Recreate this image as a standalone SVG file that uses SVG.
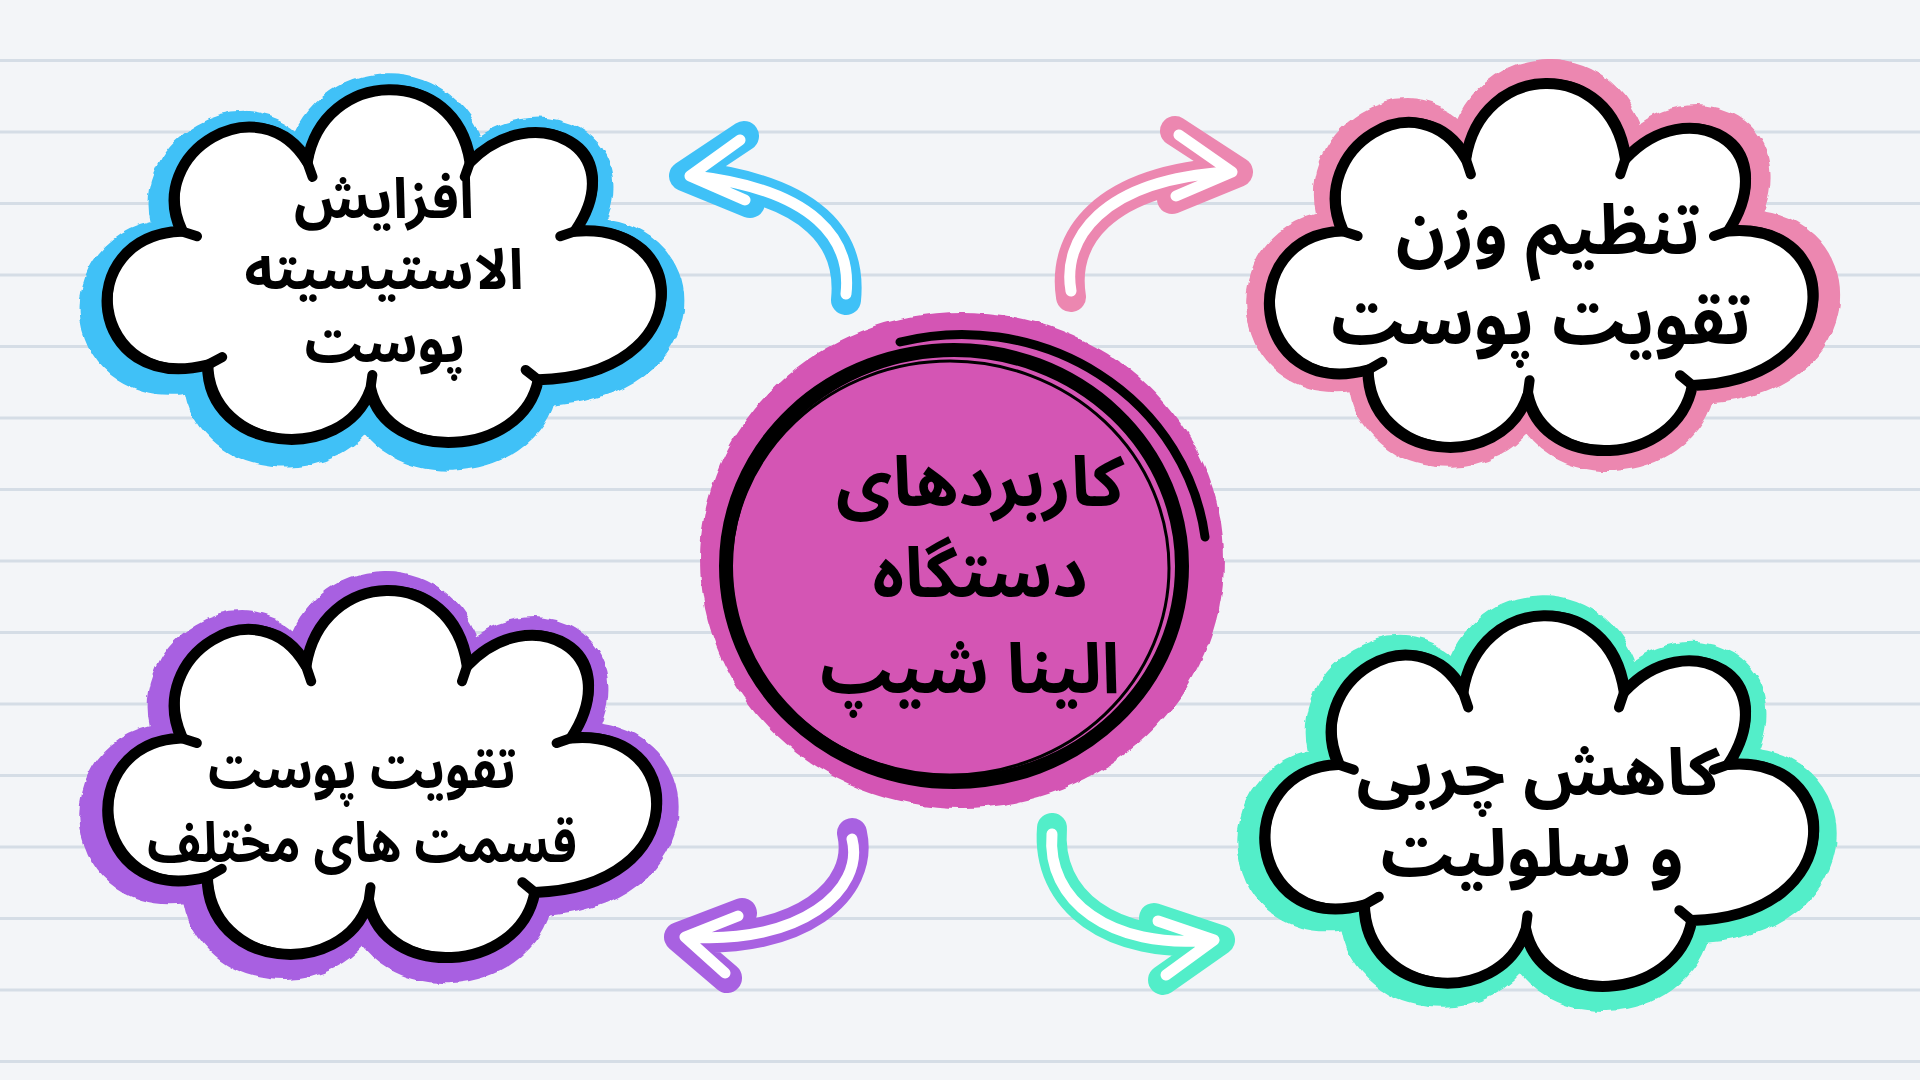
<svg xmlns="http://www.w3.org/2000/svg" xmlns:xlink="http://www.w3.org/1999/xlink" width="1920" height="1080" viewBox="0 0 1920 1080">
<defs>
<style>
.bg-line{stroke:#d5dde6;stroke-width:3}
.band{fill:#ffffff;stroke-width:34;stroke-linejoin:round}
.outline{fill:#ffffff;stroke:#000;stroke-width:11;stroke-linejoin:round}
.sketch{fill:none;stroke:#000;stroke-width:3}
.tick{fill:none;stroke:#000;stroke-width:10;stroke-linecap:round}
.t{font-family:'Noto Sans Arabic','Vazirmatn','DejaVu Sans',sans-serif;font-weight:700;fill:#000;text-anchor:middle;dominant-baseline:central}
.arr-c{fill:none;stroke-width:30;stroke-linecap:round;stroke-linejoin:round}
.arr-w{fill:none;stroke:#fff;stroke-width:11;stroke-linecap:round;stroke-linejoin:round}
</style>
<filter id="rough" x="-10%" y="-10%" width="120%" height="120%">
<feTurbulence type="fractalNoise" baseFrequency="0.06" numOctaves="2" seed="4"/>
<feDisplacementMap in="SourceGraphic" scale="6" xChannelSelector="R" yChannelSelector="G"/>
</filter>
<path id="cloud" vector-effect="non-scaling-stroke" d="M -195 -35 C -230 -115 -120 -185 -75 -105 C -60 -200 65 -205 80 -105 C 140 -170 235 -120 180 -35 C 290 -45 300 110 145 115 C 130 195 0 200 -15 125 C -40 200 -170 190 -170 100 C -285 130 -300 -30 -195 -35 Z"/>
<path id="ticks" vector-effect="non-scaling-stroke" d="M -195 -35 L -180 -30 M -75 -105 L -70 -90 M 80 -105 L 75 -90 M 180 -35 L 166 -30 M 145 115 L 133 105 M -15 125 L -13 110 M -170 100 L -156 92"/>
</defs>

<rect x="0" y="0" width="1920" height="1080" fill="#f3f5f8"/>
<g id="background-lines">
<line class="bg-line" x1="0" y1="60.5" x2="1920" y2="60.5"/>
<line class="bg-line" x1="0" y1="132" x2="1920" y2="132"/>
<line class="bg-line" x1="0" y1="203.5" x2="1920" y2="203.5"/>
<line class="bg-line" x1="0" y1="275" x2="1920" y2="275"/>
<line class="bg-line" x1="0" y1="346.5" x2="1920" y2="346.5"/>
<line class="bg-line" x1="0" y1="418" x2="1920" y2="418"/>
<line class="bg-line" x1="0" y1="489.5" x2="1920" y2="489.5"/>
<line class="bg-line" x1="0" y1="561" x2="1920" y2="561"/>
<line class="bg-line" x1="0" y1="632.5" x2="1920" y2="632.5"/>
<line class="bg-line" x1="0" y1="704" x2="1920" y2="704"/>
<line class="bg-line" x1="0" y1="775.5" x2="1920" y2="775.5"/>
<line class="bg-line" x1="0" y1="847" x2="1920" y2="847"/>
<line class="bg-line" x1="0" y1="918.5" x2="1920" y2="918.5"/>
<line class="bg-line" x1="0" y1="990" x2="1920" y2="990"/>
<line class="bg-line" x1="0" y1="1061.5" x2="1920" y2="1061.5"/>
</g>

<g id="connectors">
<g id="arrow-blue">
<path class="arr-c" stroke="#3fc1f7" d="M 846 300 C 852 240 815 190 690 176 M 744 136 L 684 176 L 750 203"/>
<path class="arr-w" d="M 846 294 C 852 240 815 190 694 176 M 740 140 L 690 176 L 745 200"/>
</g>
<g id="arrow-pink">
<path class="arr-c" stroke="#ec87b0" d="M 1071 297 C 1062 240 1100 180 1232 172 M 1175 131 L 1238 172 L 1172 199"/>
<path class="arr-w" d="M 1071 291 C 1062 240 1100 180 1228 172 M 1179 135 L 1232 172 L 1176 196"/>
</g>
<g id="arrow-purple">
<path class="arr-c" stroke="#a861e1" d="M 852 833 C 865 890 800 945 684 937 M 742 913 L 679 937 L 727 978"/>
<path class="arr-w" d="M 852 839 C 865 890 800 945 688 937 M 738 916 L 685 937 L 725 973"/>
</g>
<g id="arrow-teal">
<path class="arr-c" stroke="#52eec9" d="M 1052 828 C 1046 900 1110 950 1215 940 M 1154 918 L 1220 940 L 1163 980"/>
<path class="arr-w" d="M 1052 834 C 1046 900 1110 950 1211 940 M 1158 921 L 1214 940 L 1166 975"/>
</g>
</g>

<g id="node-center">
<ellipse cx="962" cy="560" rx="262" ry="248" fill="#d455b4" filter="url(#rough)"/>
<ellipse cx="954" cy="566" rx="228" ry="216" fill="none" stroke="#000" stroke-width="14"/>
<ellipse cx="950" cy="568" rx="219" ry="207" fill="none" stroke="#000" stroke-width="3"/>
<path d="M 900 342 A 245 232 0 0 1 1205 537" fill="none" stroke="#000" stroke-width="9" stroke-linecap="round"/>
<text class="t" font-size="70"><tspan x="980" y="484" textLength="288" lengthAdjust="spacingAndGlyphs">کاربردهای</tspan><tspan x="980" y="575" textLength="215" lengthAdjust="spacingAndGlyphs">دستگاه</tspan><tspan x="970" y="671" textLength="300" lengthAdjust="spacingAndGlyphs">الینا شیپ</tspan></text>
</g>

<g id="node-blue">
<g transform="translate(386,266) scale(1.05,0.99)">
<use href="#cloud" class="band" stroke="#3fc1f7" transform="translate(-2,6) scale(1.03)" filter="url(#rough)"/>
<use href="#cloud" class="outline"/>
<use href="#cloud" class="sketch" transform="translate(4,-3)"/>
<use href="#ticks" class="tick"/>
</g>
<text class="t" font-size="56"><tspan x="384" y="200" textLength="180" lengthAdjust="spacingAndGlyphs">افزایش</tspan><tspan x="384" y="271" textLength="279" lengthAdjust="spacingAndGlyphs">الاستیسیته</tspan><tspan x="385" y="344" textLength="161" lengthAdjust="spacingAndGlyphs">پوست</tspan></text>
</g>

<g id="node-pink">
<g transform="translate(1543,267) scale(1.03,1.03)">
<use href="#cloud" class="band" stroke="#ec87b0" transform="translate(2,-2) scale(1.03)" filter="url(#rough)"/>
<use href="#cloud" class="outline"/>
<use href="#cloud" class="sketch" transform="translate(4,-3)"/>
<use href="#ticks" class="tick"/>
</g>
<text class="t" font-size="70"><tspan x="1548" y="232" textLength="304" lengthAdjust="spacingAndGlyphs">تنظیم وزن</tspan><tspan x="1541" y="322" textLength="420" lengthAdjust="spacingAndGlyphs">تقویت پوست</tspan></text>
</g>

<g id="node-purple">
<g transform="translate(384,774) scale(1.04,1.03)">
<use href="#cloud" class="band" stroke="#a861e1" transform="translate(-3,3) scale(1.03)" filter="url(#rough)"/>
<use href="#cloud" class="outline"/>
<use href="#cloud" class="sketch" transform="translate(4,-3)"/>
<use href="#ticks" class="tick"/>
</g>
<text class="t" font-size="56"><tspan x="362" y="770" textLength="308" lengthAdjust="spacingAndGlyphs">تقویت پوست</tspan><tspan x="362" y="844" textLength="430" lengthAdjust="spacingAndGlyphs">قسمت های مختلف</tspan></text>
</g>

<g id="node-teal">
<g transform="translate(1541,801) scale(1.04,1.04)">
<use href="#cloud" class="band" stroke="#52eec9" transform="translate(-2,2) scale(1.03)" filter="url(#rough)"/>
<use href="#cloud" class="outline"/>
<use href="#cloud" class="sketch" transform="translate(4,-3)"/>
<use href="#ticks" class="tick"/>
</g>
<text class="t" font-size="66"><tspan x="1538" y="774" textLength="363" lengthAdjust="spacingAndGlyphs">کاهش چربی</tspan><tspan x="1532" y="855" textLength="303" lengthAdjust="spacingAndGlyphs">و سلولیت</tspan></text>
</g>
</svg>
